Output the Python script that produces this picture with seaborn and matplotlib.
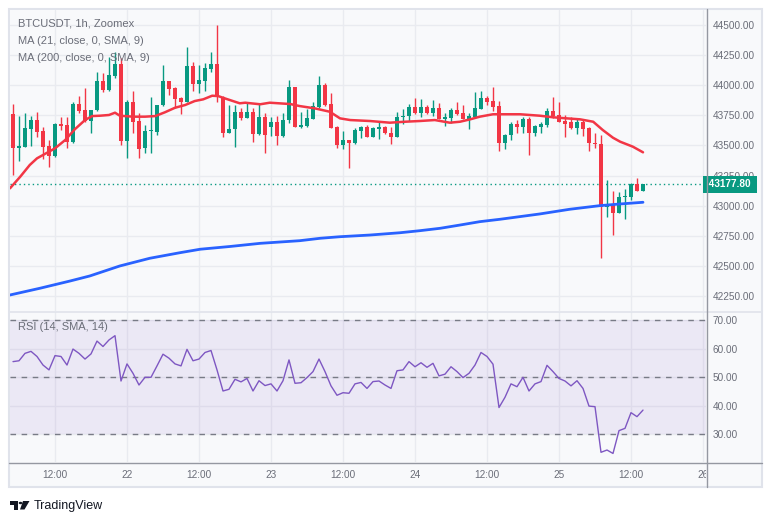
import numpy as np
import matplotlib
matplotlib.use("Agg")
import matplotlib.pyplot as plt
import matplotlib.transforms as mtransforms
from matplotlib.patches import Rectangle, Circle, Polygon
from matplotlib.lines import Line2D
import seaborn as sns

# BTCUSDT 1h candles, from Jan 21 05:00 (hour 0) to Jan 25 14:00
opens = [43761, 43479, 43490, 43639, 43711, 43620, 43495, 43412, 43678, 43670,
         43531, 43844, 43794, 43705, 43794, 44035, 43960, 44077, 44176, 43539,
         43860, 43705, 43479, 43618, 43614, 43836, 44038, 43979, 43896, 43863,
         44162, 44008, 44038, 44135, 44179, 43900, 43606, 43636, 43775, 43730,
         43775, 43593, 43736, 43656, 43694, 43581, 43711, 43985, 43656, 43664,
         43722, 43822, 44002, 43844, 43656, 43506, 43545, 43518, 43620, 43656,
         43573, 43639, 43656, 43606, 43573, 43736, 43744, 43822, 43772, 43822,
         43772, 43811, 43722, 43730, 43794, 43772, 43720, 43739, 43803, 43891,
         43866, 43828, 43523, 43587, 43678, 43656, 43720, 43606, 43656, 43670,
         43786, 43753, 43705, 43692, 43647, 43697, 43647, 43523, 43512, 42991,
         43005, 42942, 43069, 43075, 43180, 43122]
highs = [43844, 43744, 43770, 43744, 43778, 43656, 43545, 43686, 43734, 43739,
         43858, 43910, 43974, 43794, 44107, 44101, 44237, 44273, 44226, 43877,
         43952, 43767, 43670, 43902, 43836, 44168, 44038, 43988, 43905, 44320,
         44195, 44168, 44187, 44278, 44500, 43910, 43836, 43836, 43808, 43855,
         43808, 43842, 43767, 43734, 43744, 43772, 44043, 43988, 43780, 43800,
         43863, 44077, 44016, 43933, 43661, 43620, 43545, 43642, 43661, 43670,
         43656, 43697, 43661, 43656, 43778, 43800, 43842, 43891, 43883, 43836,
         43877, 43855, 43772, 43814, 43863, 43836, 43767, 43946, 43955, 43910,
         43988, 43866, 43595, 43697, 43711, 43739, 43734, 43670, 43697, 43808,
         43905, 43863, 43753, 43734, 43717, 43711, 43656, 43601, 43587, 43213,
         43122, 43111, 43136, 43186, 43227, 43178]
lows = [43255, 43375, 43490, 43495, 43573, 43387, 43324, 43406, 43628, 43481,
        43518, 43767, 43697, 43606, 43786, 43946, 43955, 44060, 43504, 43393,
        43601, 43398, 43440, 43437, 43587, 43827, 43919, 43808, 43759, 43863,
        43952, 43933, 43955, 44112, 43863, 43573, 43601, 43490, 43711, 43727,
        43531, 43587, 43440, 43578, 43504, 43573, 43683, 43651, 43647, 43656,
        43717, 43814, 43827, 43642, 43481, 43470, 43315, 43510, 43564, 43568,
        43568, 43551, 43593, 43512, 43568, 43676, 43703, 43759, 43734, 43759,
        43744, 43717, 43664, 43689, 43753, 43717, 43636, 43739, 43803, 43836,
        43789, 43456, 43470, 43545, 43606, 43606, 43421, 43581, 43606, 43656,
        43725, 43697, 43573, 43636, 43595, 43578, 43456, 43481, 42563, 42909,
        42754, 42936, 42889, 43050, 43122, 43122]
closes = [43479, 43495, 43645, 43711, 43614, 43490, 43412, 43678, 43664, 43531,
          43844, 43789, 43705, 43794, 44035, 43960, 44085, 44174, 43539, 43858,
          43697, 43470, 43620, 43624, 43836, 44038, 43969, 43886, 43863, 44162,
          44008, 44043, 44140, 44179, 43900, 43606, 43636, 43775, 43730, 43775,
          43593, 43734, 43587, 43694, 43581, 43711, 43985, 43656, 43670, 43730,
          43828, 44002, 43836, 43647, 43506, 43545, 43523, 43628, 43656, 43573,
          43647, 43656, 43601, 43573, 43736, 43744, 43822, 43772, 43822, 43772,
          43811, 43720, 43736, 43794, 43761, 43720, 43747, 43808, 43891, 43863,
          43822, 43523, 43587, 43678, 43656, 43717, 43606, 43661, 43681, 43786,
          43747, 43697, 43681, 43647, 43697, 43639, 43518, 43510, 42991, 43005,
          42942, 43069, 43080, 43180, 43122, 43177.8]

# MA(21) read at selected hours
ma21_hours = [-0.5, 1.2, 2.8, 4, 5.3, 7, 8.7, 10.3, 12, 13.2, 14.5, 16, 17, 17.8,
              20, 22, 23.7, 25.3, 27, 28.7, 30.3, 31.7, 33.2, 34.2, 35.3, 37.8,
              38.7, 41.2, 42.8, 46.2, 47.8, 50.3, 52.8, 54.5, 56.2, 59.5, 62.8,
              65.3, 67.8, 70.3, 72.8, 74.5, 76.2, 77.8, 80, 84.5, 87.8, 90, 92.3,
              94.5, 96.7, 98.3, 100, 101.2, 103.3, 105]
ma21_vals = [43144, 43240, 43338, 43393, 43429, 43476, 43545, 43634, 43711, 43744,
             43747, 43753, 43772, 43747, 43739, 43739, 43744, 43775, 43813, 43836,
             43869, 43883, 43913, 43910, 43891, 43850, 43855, 43842, 43855, 43844,
             43827, 43808, 43780, 43725, 43711, 43703, 43689, 43697, 43703, 43711,
             43689, 43697, 43717, 43739, 43759, 43759, 43747, 43734, 43725, 43717,
             43697, 43628, 43564, 43531, 43490, 43443]

# MA(200) read at selected hours
ma200_hours = [-0.5, 4.5, 9.5, 12.8, 17.8, 22.8, 27.8, 31.2, 36.2, 41.2, 47.8, 51.2,
               54.5, 59.5, 64.5, 67.8, 71.2, 74.5, 77.8, 81.2, 87.8, 92.8, 97.8,
               101.2, 105]
ma200_vals = [42258, 42314, 42374, 42416, 42499, 42563, 42609, 42638, 42661, 42687,
              42709, 42729, 42742, 42756, 42775, 42792, 42812, 42839, 42867, 42887,
              42931, 42970, 43000, 43014, 43028]

# RSI(14), one value per candle
rsi = [55.5, 55.8, 58.4, 59.1, 57.3, 54.3, 52.6, 57.6, 57.3, 54.3,
       59.9, 58.4, 56.4, 58.2, 62.7, 60.8, 63.1, 64.6, 48.7, 54.7,
       51.4, 47.3, 50.0, 50.0, 54.0, 58.1, 56.7, 54.7, 54.0, 59.8,
       55.8, 56.4, 58.7, 59.4, 52.6, 45.2, 45.8, 49.3, 48.4, 49.6,
       45.2, 48.8, 47.1, 47.7, 45.2, 48.8, 56.1, 47.9, 48.1, 49.9,
       52.0, 56.4, 52.0, 47.0, 43.7, 44.6, 44.4, 47.7, 48.2, 46.1,
       48.5, 48.7, 47.3, 46.1, 52.3, 52.6, 55.5, 53.7, 55.1, 53.5,
       54.9, 50.5, 51.1, 53.7, 52.0, 49.9, 51.4, 54.3, 58.7, 57.3,
       54.6, 39.4, 43.0, 47.7, 46.7, 50.0, 45.2, 47.7, 48.5, 54.2,
       52.0, 49.6, 48.7, 47.0, 48.8, 46.1, 39.9, 39.7, 23.7, 24.5,
       23.3, 31.3, 32.1, 37.6, 36.2, 38.5]

price_ticks = [42250, 42500, 42750, 43000, 43250, 43500, 43750, 44000, 44250, 44500]
rsi_ticks = [30, 40, 50, 60, 70]
time_ticks = [7, 19, 31, 43, 55, 67, 79, 91, 103, 115]
time_labels = ["12:00", "22", "12:00", "23", "12:00", "24", "12:00", "25", "12:00", "26"]
last_price = closes[-1]

sns.set_style("white")
plt.rcParams["font.family"] = ["Liberation Sans", "DejaVu Sans"]

W, H = 772, 523
UP, DOWN = "#089981", "#f23645"
BG = "#f8f9fb"
GRID = "#e9ebf0"
TXT = "#6a6d78"

fig = plt.figure(figsize=(W / 100, H / 100), dpi=100)
fig.patch.set_facecolor("white")


def fr(x, y, w=0, h=0):
    # pixel box (top-left origin) -> figure fraction
    return x / W, 1 - (y + h) / H, w / W, h / H


x0, y0, w0, h0 = fr(9, 9, 753, 478)
fig.add_artist(Rectangle((x0, y0), w0, h0, transform=fig.transFigure,
                         facecolor=BG, edgecolor="#e0e3eb", lw=1.5, zorder=0))

ax1 = fig.add_axes(fr(10, 10, 696, 301))
ax2 = fig.add_axes(fr(10, 312, 696, 150))
for ax in (ax1, ax2):
    ax.set_facecolor(BG)
    for s in ax.spines.values():
        s.set_visible(False)
    ax.set_xlim(-0.5, 115.5)
    ax.set_xticks(time_ticks)
    ax.set_xticklabels([])
    ax.grid(True, color=GRID, lw=1)
    ax.set_axisbelow(True)
    ax.yaxis.tick_right()
    ax.tick_params(axis="both", length=0)
    ax.tick_params(axis="y", pad=5, labelsize=7.2, labelcolor=TXT)

# price panel
hours = np.arange(len(closes))
o = np.array(opens)
c = np.array(closes)
cols = [UP if cc >= oo else DOWN for oo, cc in zip(o, c)]
ax1.vlines(hours, lows, highs, colors=cols, lw=1, zorder=3)
ax1.bar(hours, np.maximum(np.abs(c - o), 9), bottom=np.minimum(o, c),
        width=0.76, color=cols, lw=0, zorder=4)
sns.lineplot(x=ma21_hours, y=ma21_vals, ax=ax1, color=DOWN, lw=1.8, zorder=5)
sns.lineplot(x=ma200_hours, y=ma200_vals, ax=ax1, color="#2962ff", lw=2, zorder=5)
ax1.axhline(last_price, color=UP, lw=1, ls=(0, (1, 2.2)), zorder=2)
ax1.set_ylim(42125, 44625)
ax1.set_yticks(price_ticks)
ax1.set_yticklabels([f"{p:.2f}" for p in price_ticks])
ax1.set_xlabel("")
ax1.set_ylabel("")
ax1.text(1.0, last_price, f" {last_price:.2f} ",
         transform=mtransforms.blended_transform_factory(ax1.transAxes, ax1.transData),
         ha="left", va="center", fontsize=7.2, color="white", fontweight="bold",
         bbox=dict(boxstyle="square,pad=0.35", fc=UP, ec="none"), clip_on=False, zorder=10)

ax1.text(0.012, 0.955, "BTCUSDT, 1h, Zoomex", transform=ax1.transAxes,
         fontsize=8, color=TXT, va="center")
ax1.text(0.012, 0.898, "MA (21, close, 0, SMA, 9)", transform=ax1.transAxes,
         fontsize=8, color=TXT, va="center")
ax1.text(0.012, 0.841, "MA (200, close, 0, SMA, 9)", transform=ax1.transAxes,
         fontsize=8, color=TXT, va="center")

# RSI panel
ax2.axhspan(30, 70, color="#7e57c2", alpha=0.1, lw=0, zorder=1)
for lvl in (70, 50, 30):
    ax2.axhline(lvl, color="#787b86", lw=1, ls=(0, (4, 4)), zorder=2)
sns.lineplot(x=hours, y=rsi, ax=ax2, color="#7e57c2", lw=1, zorder=4)
ax2.set_ylim(20.3, 72.9)
ax2.set_yticks(rsi_ticks)
ax2.set_yticklabels([f"{v:.2f}" for v in rsi_ticks])
ax2.set_xlabel("")
ax2.set_ylabel("")
ax2.text(0.012, 0.9, "RSI (14, SMA, 14)", transform=ax2.transAxes,
         fontsize=8, color=TXT, va="center")

clip = mtransforms.TransformedBbox(mtransforms.Bbox.from_extents(0, 0, 706 / W, 1),
                                   fig.transFigure)
blend = mtransforms.blended_transform_factory(ax2.transData, ax2.transAxes)
for h, lab in zip(time_ticks, time_labels):
    t = ax2.text(h, -0.087, lab, transform=blend, ha="center", va="center",
                 fontsize=7.2, color=TXT)
    t.set_clip_path(None)
    t.set_clip_box(clip)
    t.set_clip_on(True)

# scale separators
fig.add_artist(Line2D([9 / W, 762 / W], [1 - 311.5 / H] * 2, color="#e0e3eb", lw=1.2,
                      transform=fig.transFigure))
fig.add_artist(Line2D([9 / W, 762 / W], [1 - 462.5 / H] * 2, color="#9598a1", lw=1,
                      transform=fig.transFigure))
fig.add_artist(Line2D([706.5 / W] * 2, [1 - 9 / H, 1 - 487 / H], color="#9598a1", lw=1,
                      transform=fig.transFigure))

# TradingView logo and name
for x, y, w, h in [(10, 501, 8, 3.5), (14, 501, 4, 8.5)]:
    fig.add_artist(Rectangle(fr(x, y, w, h)[:2], w / W, h / H, transform=fig.transFigure,
                             fc="#131722", ec="none"))
fig.add_artist(Circle((20.5 / W, 1 - 503 / H), 1.8 / W, transform=fig.transFigure,
                      fc="#131722", ec="none"))
fig.add_artist(Polygon([(23 / W, 1 - 501 / H), (29.5 / W, 1 - 501 / H),
                        (24.5 / W, 1 - 509.5 / H), (20 / W, 1 - 509.5 / H)],
                       transform=fig.transFigure, fc="#131722", ec="none"))
fig.text(34 / W, 1 - 505.5 / H, "TradingView", fontsize=9, color="#131722", va="center")

fig.savefig("out.png", dpi=100, facecolor="white")
